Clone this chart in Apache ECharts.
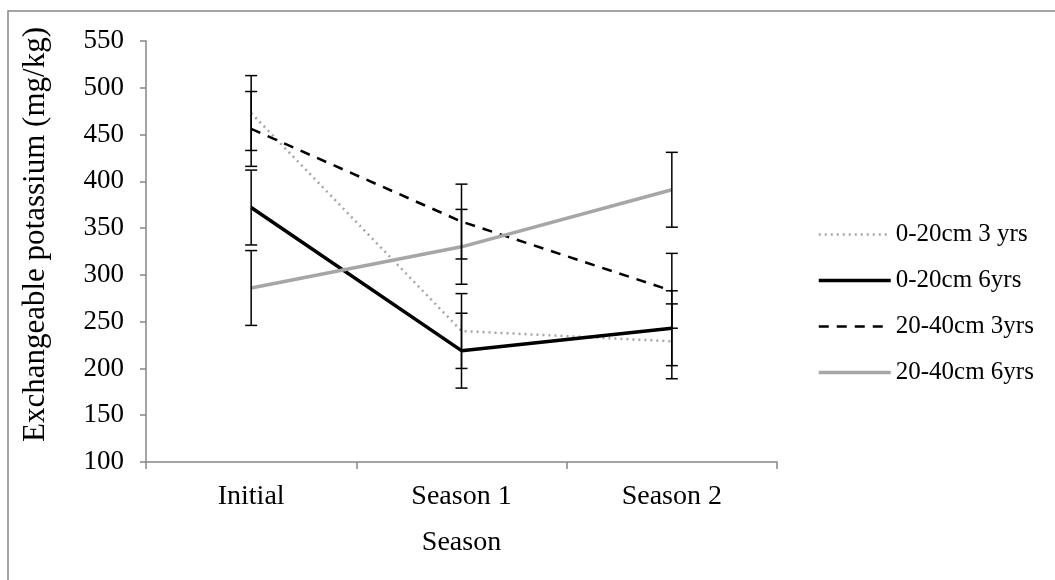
<!DOCTYPE html>
<html>
<head>
<meta charset="utf-8">
<script src="https://cdn.jsdelivr.net/npm/echarts@6/dist/echarts.min.js"></script>
<style>
html,body{margin:0;padding:0;background:#fff;}
#chart{width:1055px;height:580px;}
</style>
</head>
<body>
<div id="chart"></div>
<script>
const categories = ['Initial', 'Season 1', 'Season 2'];
const seriesNames = ['0-20cm 3 yrs', '0-20cm 6yrs', '20-40cm 3yrs', '20-40cm 6yrs'];
const values_0_20_3 = [473, 240, 229];
const values_0_20_6 = [372, 219, 243];
const values_20_40_3 = [456, 357, 283];
const values_20_40_6 = [286, 330, 391];
const err_0_20_3 = [40, 40, 40];
const err_0_20_6 = [40, 40, 40];
const err_20_40_3 = [40, 40, 40];
const err_20_40_6 = [40, 40, 40];
const yTicks = [100, 150, 200, 250, 300, 350, 400, 450, 500, 550];

const FONT = 'Liberation Serif';
const chart = echarts.init(document.getElementById('chart'));

function errSeries(vals, errs) {
  return {
    type: 'custom',
    silent: true,
    z: 5,
    data: vals.map((v, i) => [i, v - errs[i], v + errs[i]]),
    renderItem: function (params, api) {
      const lo = api.coord([api.value(0), api.value(1)]);
      const hi = api.coord([api.value(0), api.value(2)]);
      const hw = 6;
      const style = { stroke: '#000', lineWidth: 1.5 };
      return {
        type: 'group',
        children: [
          { type: 'line', shape: { x1: lo[0], y1: lo[1], x2: hi[0], y2: hi[1] }, style: style },
          { type: 'line', shape: { x1: lo[0] - hw, y1: lo[1], x2: lo[0] + hw, y2: lo[1] }, style: style },
          { type: 'line', shape: { x1: hi[0] - hw, y1: hi[1], x2: hi[0] + hw, y2: hi[1] }, style: style }
        ]
      };
    }
  };
}

function lineSeries(name, vals, color, width, type, z) {
  return {
    name: name,
    type: 'line',
    data: vals,
    symbol: 'none',
    z: z,
    lineStyle: { color: color, width: width, type: type },
    itemStyle: { color: color }
  };
}

chart.setOption({
  animation: false,
  backgroundColor: '#fff',
  textStyle: { fontFamily: FONT },
  graphic: [{
    type: 'rect',
    shape: { x: 8, y: 11, width: 1100, height: 620 },
    style: { fill: 'none', stroke: '#868686', lineWidth: 1.5 },
    silent: true
  }],
  grid: { left: 146, right: 278, top: 41, bottom: 118 },
  legend: {
    orient: 'vertical',
    left: 812,
    top: 217,
    itemWidth: 72,
    itemHeight: 14,
    itemGap: 21,
    itemStyle: { opacity: 0 },
    lineStyle: { width: 'inherit' },
    data: seriesNames,
    textStyle: { fontFamily: FONT, fontSize: 25, color: '#000' }
  },
  xAxis: {
    type: 'category',
    data: categories,
    boundaryGap: true,
    name: 'Season',
    nameLocation: 'middle',
    nameGap: 67,
    nameTextStyle: { fontFamily: FONT, fontSize: 28, color: '#000' },
    axisLine: { lineStyle: { color: '#868686', width: 1.5 } },
    axisTick: { show: true, length: 7, alignWithLabel: false, lineStyle: { color: '#868686', width: 1.5 } },
    axisLabel: { fontFamily: FONT, fontSize: 28, color: '#000', margin: 21 },
    splitLine: { show: false }
  },
  yAxis: {
    type: 'value',
    min: yTicks[0],
    max: yTicks[yTicks.length - 1],
    interval: 50,
    name: 'Exchangeable potassium (mg/kg)',
    nameLocation: 'middle',
    nameGap: 95,
    nameTextStyle: { fontFamily: FONT, fontSize: 31, color: '#000', padding: [0, 0, 0, 34] },
    axisLine: { show: true, lineStyle: { color: '#868686', width: 1.5 } },
    axisTick: { show: true, length: 6, lineStyle: { color: '#868686', width: 1.5 } },
    axisLabel: { fontFamily: FONT, fontSize: 27, color: '#000', margin: 22 },
    splitLine: { show: false }
  },
  series: [
    lineSeries(seriesNames[0], values_0_20_3, '#a6a6a6', 2.5, [2, 4], 3),
    lineSeries(seriesNames[1], values_0_20_6, '#000000', 3.5, 'solid', 3),
    lineSeries(seriesNames[2], values_20_40_3, '#000000', 2.5, [10, 8], 3),
    lineSeries(seriesNames[3], values_20_40_6, '#a6a6a6', 3.5, 'solid', 3),
    errSeries(values_0_20_3, err_0_20_3),
    errSeries(values_0_20_6, err_0_20_6),
    errSeries(values_20_40_3, err_20_40_3),
    errSeries(values_20_40_6, err_20_40_6)
  ]
});
</script>
</body>
</html>
